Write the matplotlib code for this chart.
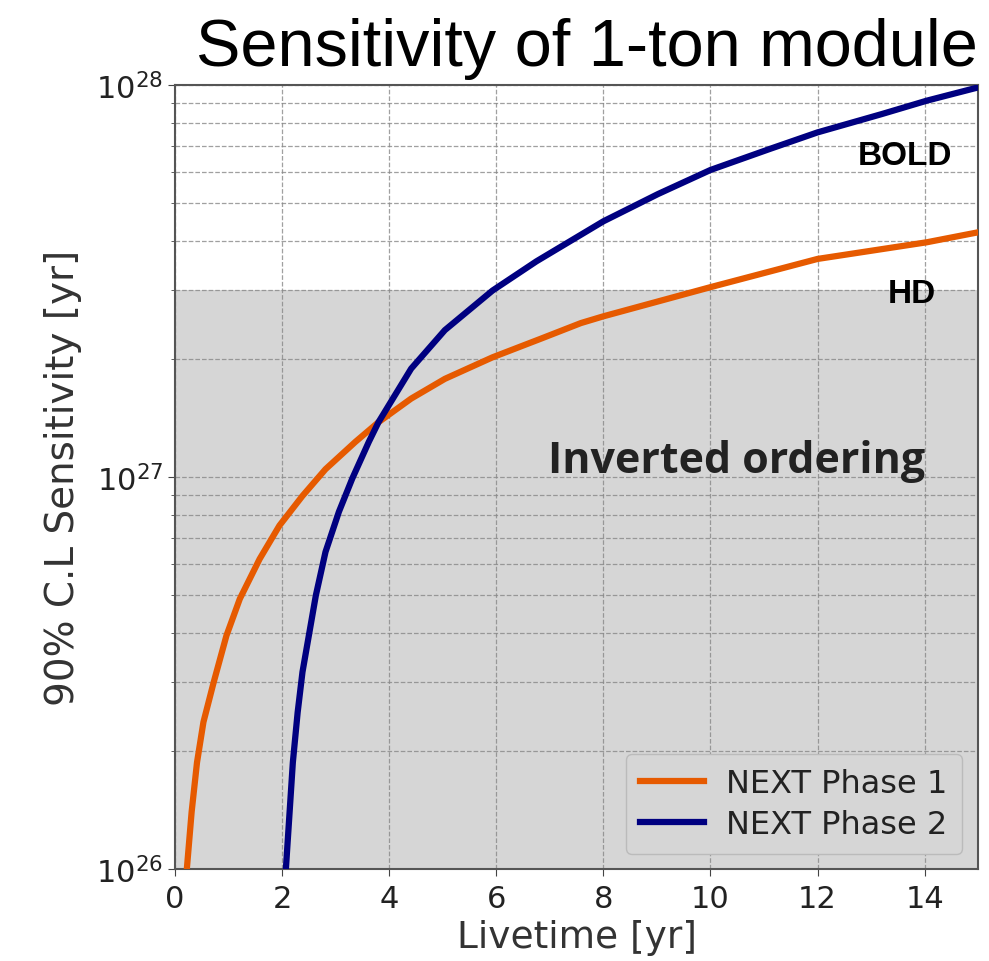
import matplotlib
matplotlib.use("Agg")
import matplotlib.pyplot as plt
from matplotlib.ticker import LogLocator, NullFormatter

# NEXT Phase 1 (orange): livetime [yr] vs 90% C.L. sensitivity [yr]
phase1_t = [0.22, 0.31, 0.41, 0.53, 0.72, 0.96, 1.21, 1.58, 1.95, 2.38, 2.81,
            3.37, 3.8, 4.41, 5.04, 5.93, 6.82, 7.58, 8.0, 10.0, 12.0, 14.04, 15.0]
phase1_s = [1.0e26, 1.40e26, 1.87e26, 2.37e26, 2.99e26, 3.94e26, 4.89e26,
            6.18e26, 7.52e26, 8.95e26, 1.047e27, 1.23e27, 1.38e27, 1.585e27,
            1.78e27, 2.02e27, 2.25e27, 2.47e27, 2.57e27, 3.05e27, 3.60e27,
            3.97e27, 4.21e27]

# NEXT Phase 2 (navy)
phase2_t = [2.07, 2.14, 2.2, 2.29, 2.38, 2.51, 2.63, 2.81, 3.06, 3.31, 3.62,
            3.8, 4.41, 5.04, 5.93, 6.75, 8.0, 9.02, 10.0, 11.11, 12.0, 13.2,
            14.04, 15.0]
phase2_s = [1.0e26, 1.40e26, 1.87e26, 2.51e26, 3.18e26, 4.02e26, 4.99e26,
            6.44e26, 8.15e26, 9.91e26, 1.23e27, 1.38e27, 1.89e27, 2.37e27,
            2.99e27, 3.55e27, 4.49e27, 5.27e27, 6.07e27, 6.87e27, 7.57e27,
            8.43e27, 9.12e27, 9.86e27]

inverted_top = 3e27
labels = ["NEXT Phase 1", "NEXT Phase 2"]
colors = ["#e65a00", "#000080"]

fig = plt.figure(figsize=(9.89, 9.62), dpi=100)
ax = fig.add_axes([0.177, 0.0956, 0.812, 0.815])

ax.axhspan(1e26, inverted_top, color="#d6d6d6", zorder=0, lw=0)
ax.plot(phase1_t, phase1_s, color=colors[0], lw=4.5, label=labels[0], zorder=3)
ax.plot(phase2_t, phase2_s, color=colors[1], lw=4.5, label=labels[1], zorder=3)

ax.set_yscale("log")
ax.set_xlim(0, 15)
ax.set_ylim(1e26, 1e28)
ax.set_xticks(range(0, 16, 2))
ax.yaxis.set_major_locator(LogLocator(base=10))
ax.yaxis.set_minor_locator(LogLocator(base=10, subs=range(2, 10)))
ax.yaxis.set_minor_formatter(NullFormatter())

ax.grid(True, axis="x", which="major", ls="--", color="#888888", lw=0.9, alpha=0.8)
ax.grid(True, axis="y", which="both", ls="--", color="#888888", lw=0.9, alpha=0.8)
ax.set_axisbelow(True)

ax.tick_params(axis="both", which="major", labelsize=22, length=5,
               color="#444444", labelcolor="#222222")
ax.tick_params(axis="x", which="major", pad=6)
ax.tick_params(axis="y", which="minor", length=3, color="#444444")
for sp in ax.spines.values():
    sp.set_color("#555555")
    sp.set_linewidth(1.5)

ax.set_xlabel("Livetime [yr]", fontsize=27, color="#333333", labelpad=4)
ax.set_ylabel("90% C.L Sensitivity [yr]", fontsize=28, color="#333333", labelpad=10)

ax.text(13.64, 6.6e27, "BOLD", fontsize=24, fontweight="bold", family="Liberation Sans",
        ha="center", va="center")
ax.text(13.76, 2.93e27, "HD", fontsize=24, fontweight="bold", family="Liberation Sans",
        ha="center", va="center")
ax.text(10.49, 1.1e27, "Inverted ordering", fontsize=31, fontweight="bold",
        family="Open Sans", color="#222222", ha="center", va="center")

leg = ax.legend(loc="lower right", fontsize=23, frameon=True, fancybox=True,
                handlelength=2.0, handletextpad=0.7, borderpad=0.45,
                labelspacing=0.3, borderaxespad=0, bbox_to_anchor=(0.98, 0.019))
leg.get_frame().set_facecolor("#d6d6d6")
leg.get_frame().set_edgecolor("#bbbbbb")
leg.get_frame().set_alpha(1)
for txt in leg.get_texts():
    txt.set_color("#222222")

fig.text(0.989, 0.931, "Sensitivity of 1-ton module", fontsize=48,
         ha="right", va="baseline", family="Liberation Sans")

fig.savefig("out.png", dpi=100)
